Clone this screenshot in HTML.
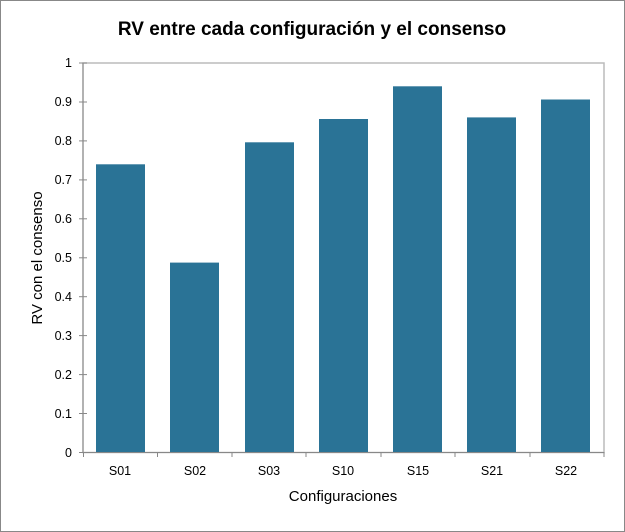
<!DOCTYPE html><html><head><style>body{margin:0;background:#fff}svg{display:block}</style></head><body>
<svg width="625" height="532" xmlns="http://www.w3.org/2000/svg" font-family="Liberation Sans, sans-serif">
<rect x="0.5" y="0.5" width="624" height="531" fill="#fff" stroke="#888"/>
<text x="312" y="35" text-anchor="middle" font-size="19" font-weight="bold">RV entre cada configuración y el consenso</text>
<rect x="83" y="63" width="521" height="389.5" fill="none" stroke="#bbb" stroke-width="1.5"/>
<g fill="#2a7396">
<rect x="96" y="164.3" width="49" height="288.2"/>
<rect x="170" y="262.6" width="49" height="189.9"/>
<rect x="245" y="142.3" width="49" height="310.2"/>
<rect x="319" y="119" width="49" height="333.5"/>
<rect x="393" y="86.3" width="49" height="366.2"/>
<rect x="467" y="117.4" width="49" height="335.1"/>
<rect x="541" y="99.5" width="49" height="353"/>
</g>
<g stroke="#888" stroke-width="1">
<line x1="83" y1="63" x2="83" y2="452.5"/>
<line x1="83" y1="452.5" x2="604" y2="452.5"/>
<line x1="79" x2="87" y1="63" y2="63"/><line x1="79" x2="87" y1="102" y2="102"/><line x1="79" x2="87" y1="140.9" y2="140.9"/><line x1="79" x2="87" y1="179.9" y2="179.9"/><line x1="79" x2="87" y1="218.8" y2="218.8"/><line x1="79" x2="87" y1="257.8" y2="257.8"/><line x1="79" x2="87" y1="296.7" y2="296.7"/><line x1="79" x2="87" y1="335.6" y2="335.6"/><line x1="79" x2="87" y1="374.6" y2="374.6"/><line x1="79" x2="87" y1="413.5" y2="413.5"/><line x1="79" x2="87" y1="452.5" y2="452.5"/>
<line x1="83.5" x2="83.5" y1="452" y2="457"/><line x1="157.5" x2="157.5" y1="452" y2="457"/><line x1="232" x2="232" y1="452" y2="457"/><line x1="306" x2="306" y1="452" y2="457"/><line x1="381" x2="381" y1="452" y2="457"/><line x1="455" x2="455" y1="452" y2="457"/><line x1="530" x2="530" y1="452" y2="457"/><line x1="604" x2="604" y1="452" y2="457"/>
</g>
<g font-size="12.5" text-anchor="end">
<text x="72" y="67">1</text><text x="72" y="106">0.9</text><text x="72" y="145">0.8</text><text x="72" y="184">0.7</text><text x="72" y="223">0.6</text><text x="72" y="262">0.5</text><text x="72" y="301">0.4</text><text x="72" y="340">0.3</text><text x="72" y="379">0.2</text><text x="72" y="418">0.1</text><text x="72" y="457">0</text>
</g>
<g font-size="12.5" text-anchor="middle">
<text x="120" y="475">S01</text><text x="195" y="475">S02</text><text x="269" y="475">S03</text><text x="343" y="475">S10</text><text x="418" y="475">S15</text><text x="492" y="475">S21</text><text x="566" y="475">S22</text>
</g>
<text x="343" y="501" text-anchor="middle" font-size="15">Configuraciones</text>
<text transform="translate(42,258) rotate(-90)" text-anchor="middle" font-size="15">RV con el consenso</text>
</svg></body></html>
